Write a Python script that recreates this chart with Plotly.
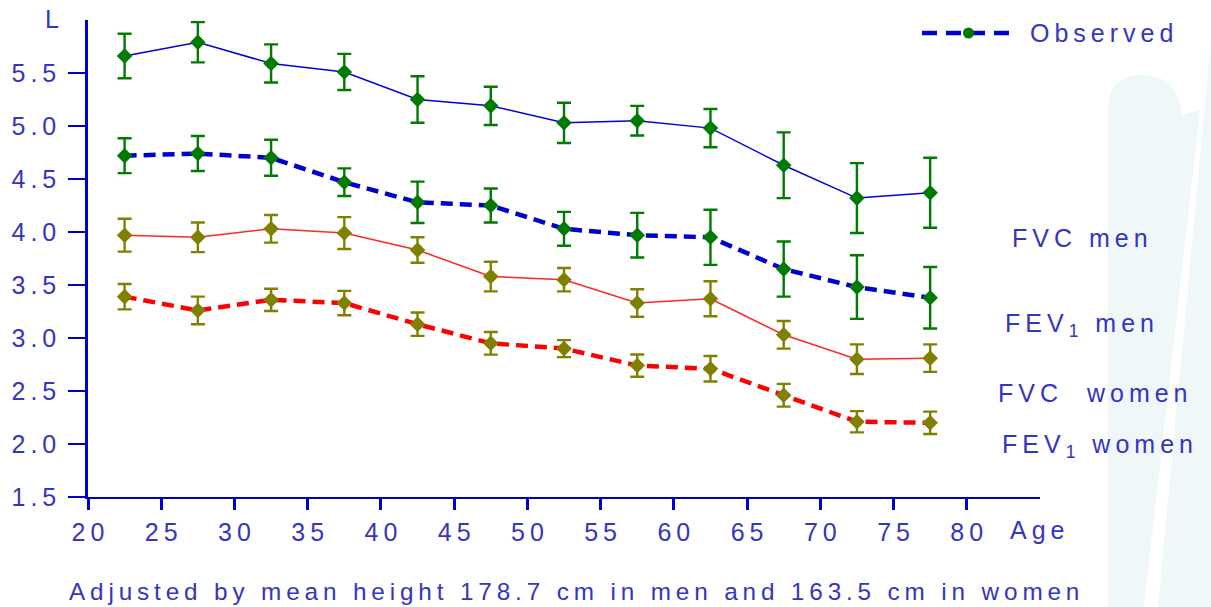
import plotly.graph_objects as go

# ---------------- data ----------------
ages = [22.5, 27.5, 32.5, 37.5, 42.5, 47.5, 52.5, 57.5, 62.5, 67.5, 72.5, 77.5]

fvc_men = [5.66, 5.79, 5.59, 5.51, 5.25, 5.19, 5.03, 5.05, 4.98, 4.63, 4.32, 4.37]
fvc_men_err = [0.21, 0.19, 0.18, 0.17, 0.22, 0.18, 0.19, 0.14, 0.18, 0.31, 0.33, 0.33]

fev1_men = [4.72, 4.74, 4.70, 4.47, 4.28, 4.25, 4.03, 3.97, 3.95, 3.65, 3.48, 3.38]
fev1_men_err = [0.165, 0.165, 0.17, 0.13, 0.195, 0.16, 0.16, 0.21, 0.26, 0.26, 0.30, 0.29]

fvc_women = [3.97, 3.95, 4.03, 3.99, 3.83, 3.58, 3.55, 3.33, 3.37, 3.03, 2.80, 2.81]
fvc_women_err = [0.155, 0.14, 0.13, 0.15, 0.12, 0.14, 0.11, 0.13, 0.165, 0.13, 0.14, 0.13]

fev1_women = [3.39, 3.26, 3.36, 3.33, 3.13, 2.95, 2.90, 2.74, 2.71, 2.46, 2.21, 2.20]
fev1_women_err = [0.12, 0.13, 0.105, 0.115, 0.11, 0.107, 0.08, 0.105, 0.12, 0.107, 0.10, 0.105]

x_ticks = [20, 25, 30, 35, 40, 45, 50, 55, 60, 65, 70, 75, 80]
y_ticks = [1.5, 2.0, 2.5, 3.0, 3.5, 4.0, 4.5, 5.0, 5.5]

# ---------------- styling helpers ----------------
FONT = "Liberation Sans, Arial, sans-serif"
FS = 25
TXT = "#3535BF"
AX = "#0000CC"
SP = "\u2009"  # letter spacing, as in the original slide rendering


def spaced(s):
    return SP.join(s)


W, H = 1211, 607
ML, MR, MT, MB = 88, 171, 20, 110
PW, PH = W - ML - MR, H - MT - MB


def px(xp):
    return (xp - ML) / PW


def py(yp):
    return (H - MB - yp) / PH


fig = go.Figure()

series = [
    (fvc_men, fvc_men_err, dict(color="#0000DD", width=1.5), "#007A00"),
    (fev1_men, fev1_men_err, dict(color="#0000CC", width=4.5, dash="12px,7px"), "#007A00"),
    (fvc_women, fvc_women_err, dict(color="#FF2626", width=1.5), "#808000"),
    (fev1_women, fev1_women_err, dict(color="#FF0000", width=4.5, dash="12px,7px"), "#808000"),
]

for vals, errs, line, mcol in series:
    fig.add_trace(go.Scatter(
        x=ages, y=vals, mode="lines+markers",
        line=line,
        marker=dict(symbol="diamond", size=12, color=mcol),
        error_y=dict(type="data", array=errs, visible=True, color=mcol,
                     thickness=2.4, width=7),
        showlegend=False, cliponaxis=False,
    ))

# ---------------- background decoration (slide) ----------------
shapes = []


def path(points_px):
    out = []
    for cmd, pts in points_px:
        if cmd == "Z":
            out.append("Z")
        else:
            coords = " ".join(f"{px(a):.4f},{py(b):.4f}" for a, b in pts)
            out.append(f"{cmd}{coords}")
    return " ".join(out)


BG = "rgba(214,236,240,0.40)"
shapes.append(dict(
    type="path", xref="paper", yref="paper", layer="below", line=dict(width=0),
    fillcolor=BG,
    path=path([("M", [(1108, 607)]), ("L", [(1108, 110)]),
               ("Q", [(1108, 75), (1143, 75)]), ("Q", [(1178, 75), (1182, 115)]),
               ("L", [(1200, 110)]), ("L", [(1144, 607)]), ("Z", [])]),
))
shapes.append(dict(
    type="path", xref="paper", yref="paper", layer="below", line=dict(width=0),
    fillcolor=BG,
    path=path([("M", [(1211, 40)]), ("L", [(1211, 607)]), ("L", [(1158, 607)]),
               ("L", [(1211, 40)]), ("Z", [])]),
))

# legend key (drawn manually: long dashed sample with marker)
shapes.append(dict(type="line", xref="paper", yref="paper",
                   x0=px(922), x1=px(1015), y0=py(33), y1=py(33),
                   line=dict(color="#0000CC", width=4.5, dash="15px,9px")))
shapes.append(dict(type="circle", xref="paper", yref="paper",
                   x0=px(963), x1=px(974), y0=py(38.5), y1=py(27.5),
                   fillcolor="#007A00", line=dict(width=0)))

annotations = [
    dict(text=spaced("Observed"), x=px(1028), y=py(33), xanchor="left", yanchor="middle"),
    dict(text="L", x=px(52), y=py(19), xanchor="center", yanchor="middle"),
    dict(text=spaced("Age"), x=px(1037), y=py(530), xanchor="center", yanchor="middle"),
    dict(text=spaced("FVC men"), x=px(1010), y=py(238), xanchor="left", yanchor="middle"),
    dict(text=spaced("FEV") + SP + "<sub>1</sub>" + SP + spaced(" men"),
         x=px(1003), y=py(325), xanchor="left", yanchor="middle"),
    dict(text=spaced("FVC  women"), x=px(996), y=py(393), xanchor="left", yanchor="middle"),
    dict(text=spaced("FEV") + SP + "<sub>1</sub>" + SP + spaced(" women"),
         x=px(1000), y=py(446), xanchor="left", yanchor="middle"),
    dict(text=spaced("Adjusted by mean height 178.7 cm in men and 163.5 cm in women"),
         x=px(574), y=py(591), xanchor="center", yanchor="middle", size=24.3),
]
for a in annotations:
    size = a.pop("size", FS)
    a.update(xref="paper", yref="paper", showarrow=False,
             font=dict(family=FONT, size=size, color=TXT))

fig.update_layout(
    width=W, height=H,
    margin=dict(l=ML, r=MR, t=MT, b=MB, pad=0, autoexpand=False),
    paper_bgcolor="white", plot_bgcolor="rgba(0,0,0,0)",
    shapes=shapes, annotations=annotations,
    font=dict(family=FONT, size=FS, color=TXT),
    xaxis=dict(range=[20, 85], showgrid=False, zeroline=False, automargin=False,
               showline=True, linecolor=AX, linewidth=2,
               ticks="outside", ticklen=11, tickwidth=3, tickcolor=AX,
               tickvals=x_ticks, ticktext=[spaced(str(v)) for v in x_ticks],
               tickfont=dict(family=FONT, size=FS, color=TXT),
               ticklabelstandoff=1),
    yaxis=dict(range=[1.5, 6.0], showgrid=False, zeroline=False, automargin=False,
               showline=True, linecolor=AX, linewidth=2.5,
               ticks="outside", ticklen=17, tickwidth=2, tickcolor=AX,
               tickvals=y_ticks, ticktext=[spaced(f"{v:.1f}") for v in y_ticks],
               tickfont=dict(family=FONT, size=FS, color=TXT),
               ticklabelstandoff=7),
)

fig.write_html("out.html")
